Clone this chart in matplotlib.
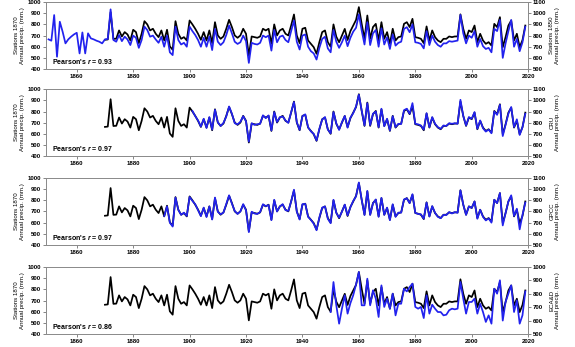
import numpy as np
import matplotlib
matplotlib.use('Agg')
import matplotlib.pyplot as plt

plt.rcParams['font.family'] = ['Liberation Sans', 'DejaVu Sans']
plt.rcParams['font.weight'] = 'bold'
plt.rcParams['mathtext.fontset'] = 'custom'
plt.rcParams['mathtext.rm'] = 'Liberation Sans:bold'
plt.rcParams['mathtext.it'] = 'Liberation Sans:italic:bold'

# Stations 1870 (left axis), 1870-2019
stations_1870 = [
    662, 665, 910, 670, 672, 746, 692, 731, 710, 656,
    752, 731, 632, 716, 829, 800, 746, 761, 716, 686,
    746, 656, 752, 603, 573, 829, 716, 671, 686, 656,
    835, 800, 761, 716, 662, 731, 656, 746, 632, 820,
    701, 671, 692, 761, 841, 776, 701, 680, 701, 761,
    716, 522, 692, 686, 680, 692, 761, 746, 761, 626,
    800, 701, 746, 761, 716, 701, 791, 889, 701, 632,
    761, 770, 656, 626, 596, 537, 641, 731, 746, 641,
    600, 800, 690, 640, 700, 760, 660, 740, 790, 840,
    955, 805, 671, 880, 671, 776, 805, 656, 820, 671,
    731, 626, 761, 656, 686, 692, 805, 820, 776, 850,
    686, 680, 671, 632, 782, 656, 746, 686, 656, 641,
    671, 671, 692, 686, 692, 692, 890, 761, 671, 746,
    731, 790, 641, 716, 656, 626, 641, 611, 805, 776,
    865, 596, 686, 790, 835, 656, 716, 596, 660, 790,
]

# Stations 1850, 1850-2019
stations_1850 = [
    766, 754, 984, 610, 924, 834, 730, 766, 790, 810,
    825, 640, 828, 640, 820, 775, 766, 754, 745, 730,
    766, 770, 1035, 760, 745, 805, 750, 790, 765, 715,
    800, 780, 690, 760, 880, 850, 790, 800, 765, 735,
    790, 700, 800, 650, 625, 880, 760, 720, 735, 700,
    880, 840, 805, 760, 700, 780, 700, 790, 670, 860,
    745, 715, 740, 805, 890, 820, 745, 725, 740, 800,
    750, 555, 735, 725, 720, 735, 800, 785, 800, 665,
    850, 740, 790, 800, 760, 740, 840, 935, 745, 675,
    800, 810, 700, 660, 640, 585, 690, 770, 790, 685,
    650, 850, 745, 690, 740, 800, 705, 780, 835, 870,
    990, 845, 720, 920, 715, 820, 850, 700, 865, 720,
    785, 680, 810, 710, 735, 745, 860, 875, 830, 900,
    740, 735, 725, 685, 840, 715, 800, 745, 715, 700,
    730, 730, 750, 745, 750, 755, 985, 820, 730, 800,
    780, 840, 700, 770, 705, 680, 690, 650, 860, 840,
    940, 600, 730, 840, 940, 700, 770, 660, 740, 880,
]

# CRU, 1901-2019
cru = [
    905, 858, 820, 765, 835, 752, 850, 738, 915,
    805, 770, 798, 855, 945, 880, 795, 785, 808, 858,
    812, 630, 795, 780, 786, 790, 866, 840, 865, 730,
    895, 806, 850, 855, 820, 798, 895, 985, 805, 735,
    858, 875, 760, 722, 700, 640, 745, 828, 850, 738,
    705, 895, 795, 735, 805, 860, 755, 845, 885, 945,
    1050, 910, 775, 975, 778, 880, 900, 760, 925, 768,
    835, 730, 858, 760, 790, 788, 912, 925, 880, 975,
    790, 785, 775, 738, 885, 760, 850, 790, 760, 745,
    775, 770, 795, 790, 795, 790, 1005, 860, 775, 850,
    835, 895, 745, 820, 750, 720, 738, 705, 900, 870,
    960, 680, 780, 880, 940, 760, 830, 690, 760, 880,
]

# GPCC, 1891-2019
gpcc = [
    760, 845, 700, 665, 925, 815, 770, 790, 760,
    930, 895, 865, 812, 758, 835, 750, 845, 728, 925,
    798, 775, 790, 866, 945, 870, 805, 778, 800, 866,
    810, 615, 798, 782, 778, 795, 865, 848, 858, 722,
    905, 800, 845, 866, 812, 805, 890, 995, 798, 728,
    866, 868, 752, 725, 690, 632, 748, 835, 845, 735,
    695, 905, 788, 745, 798, 862, 765, 838, 895, 935,
    1060, 905, 768, 985, 770, 872, 908, 752, 922, 770,
    835, 722, 865, 752, 790, 790, 908, 918, 875, 955,
    788, 778, 775, 735, 880, 755, 848, 788, 752, 740,
    770, 768, 795, 782, 795, 788, 990, 862, 770, 845,
    832, 890, 735, 815, 752, 720, 738, 700, 905, 875,
    965, 675, 785, 890, 945, 760, 825, 640, 770, 880,
]

# ECA&D, 1950-2019
ecad = [
    664, 888, 714, 577, 689, 789, 652, 730, 789, 870,
    963, 714, 714, 913, 714, 826, 764, 627, 863, 702,
    764, 689, 801, 639, 726, 726, 838, 818, 851, 876,
    702, 689, 702, 619, 789, 652, 719, 689, 664, 664,
    639, 644, 677, 689, 684, 689, 888, 764, 652, 739,
    739, 764, 652, 726, 664, 590, 639, 577, 838, 801,
    901, 600, 739, 801, 863, 664, 751, 577, 640, 818,
]

panels = [
    ('Stations 1850', 1850, stations_1850, (500, 1100), '0.93'),
    ('CRU', 1901, cru, (500, 1100), '0.97'),
    ('GPCC', 1891, gpcc, (500, 1100), '0.97'),
    ('ECA&D', 1950, ecad, (500, 1000), '0.86'),
]

years_ref = np.arange(1870, 1870 + len(stations_1870))

fig = plt.figure(figsize=(5.75, 3.47), dpi=100)
bottoms = [0.801, 0.550, 0.294, 0.0375]
blue = '#2222ee'
frame = '#8c8c8c'

for (name, start, vals, rlim, r), b in zip(panels, bottoms):
    ax = fig.add_axes([0.0795, b, 0.839, 0.193])
    ax.plot(years_ref, stations_1870, color='black', lw=1.25)
    ax.set_xlim(1849, 2020)
    ax.set_ylim(400, 1000)
    ax.set_yticks(range(400, 1001, 100))
    ax.set_xticks(range(1860, 2021, 20))
    ax.set_ylabel('Stations 1870\nAnnual precip. (mm.)', fontsize=4.4, labelpad=2,
                  linespacing=1.15)
    ax.tick_params(labelsize=4.3, length=2, width=0.5, pad=1.5, color='#555555')

    ax2 = ax.twinx()
    yrs = np.arange(start, start + len(vals))
    ax2.plot(yrs, vals, color=blue, lw=1.25)
    ax2.set_ylim(*rlim)
    ax2.set_yticks(range(rlim[0], rlim[1] + 1, 100))
    ax2.set_ylabel(name + '\nAnnual precip. (mm.)', fontsize=4.4, labelpad=2,
                   rotation=90, linespacing=1.15)
    ax2.tick_params(labelsize=4.3, length=2, width=0.5, pad=1.5, color='#555555')

    for a in (ax, ax2):
        for s in a.spines.values():
            s.set_color(frame)
            s.set_linewidth(0.7)

    ax.text(0.012, 0.04, "Pearson's $r$ = " + r, transform=ax.transAxes,
            fontsize=5, fontweight='bold', ha='left', va='bottom', zorder=5)

fig.savefig('out.png', dpi=100)
